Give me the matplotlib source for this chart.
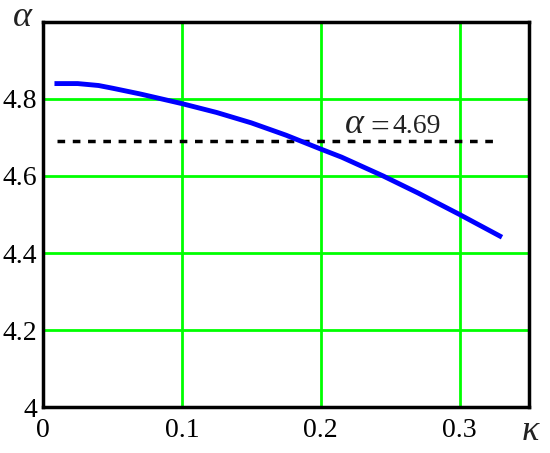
import matplotlib
matplotlib.use("Agg")
import matplotlib.pyplot as plt

kappa = [0.01, 0.025, 0.04, 0.05, 0.07, 0.10, 0.125, 0.15, 0.175, 0.20, 0.215, 0.245, 0.27, 0.30, 0.329]
alpha = [4.84, 4.84, 4.835, 4.828, 4.813, 4.788, 4.765, 4.738, 4.706, 4.670, 4.649, 4.600, 4.556, 4.500, 4.444]
ref_value = 4.69
ref_range = [0.01, 0.328]
xticks = [0, 0.1, 0.2, 0.3]
xtick_labels = ["0", "0.1", "0.2", "0.3"]
yticks = [4.0, 4.2, 4.4, 4.6, 4.8]
ytick_labels = ["4", "4.2", "4.4", "4.6", "4.8"]

serif = ["Liberation Serif", "DejaVu Serif"]

fig = plt.figure(figsize=(5.5, 4.53), dpi=100)
ax = fig.add_axes([0.0782, 0.1015, 0.8836, 0.85])

ax.set_xlim(0, 0.35)
ax.set_ylim(4.0, 5.0)

for x in [0.1, 0.2, 0.3]:
    ax.axvline(x, color="#00ff00", lw=2, zorder=1)
for y in [4.2, 4.4, 4.6, 4.8]:
    ax.axhline(y, color="#00ff00", lw=2, zorder=1)

ax.plot(kappa, alpha, color="#0000ff", lw=3.5, zorder=3)
ax.plot(ref_range, [ref_value, ref_value], color="black", lw=2.5,
        ls=(0, (2.2, 2.2)), zorder=2)

label_y = 4.712
ax.text(0.2175, label_y, "α", fontsize=26, color="#222222",
        family=serif, ha="left", va="baseline", style="italic")
ax.text(0.2355, label_y - 0.01, "=", fontsize=24, color="#222222",
        family=serif, ha="left", va="baseline")
ax.text(0.2515, label_y, "4.69", fontsize=20, color="#222222",
        family=serif, ha="left", va="baseline")

ax.set_xticks(xticks)
ax.set_xticklabels(xtick_labels, family=serif, fontsize=20)
ax.set_yticks(yticks)
ax.set_yticklabels(ytick_labels, family=serif, fontsize=20)
ax.tick_params(axis="x", length=0, pad=8)
ax.tick_params(axis="y", length=0, pad=4)

for s in ax.spines.values():
    s.set_linewidth(2.5)
    s.set_color("black")

fig.text(22 / 550, 1 - 18 / 453, "α", fontsize=26, family=serif,
         style="italic", ha="center", va="center", color="#222222")
fig.text(530 / 550, 1 - 432 / 453, "κ", fontsize=26, family=serif,
         style="italic", ha="center", va="center", color="#222222")

fig.savefig("out.png", dpi=100)
